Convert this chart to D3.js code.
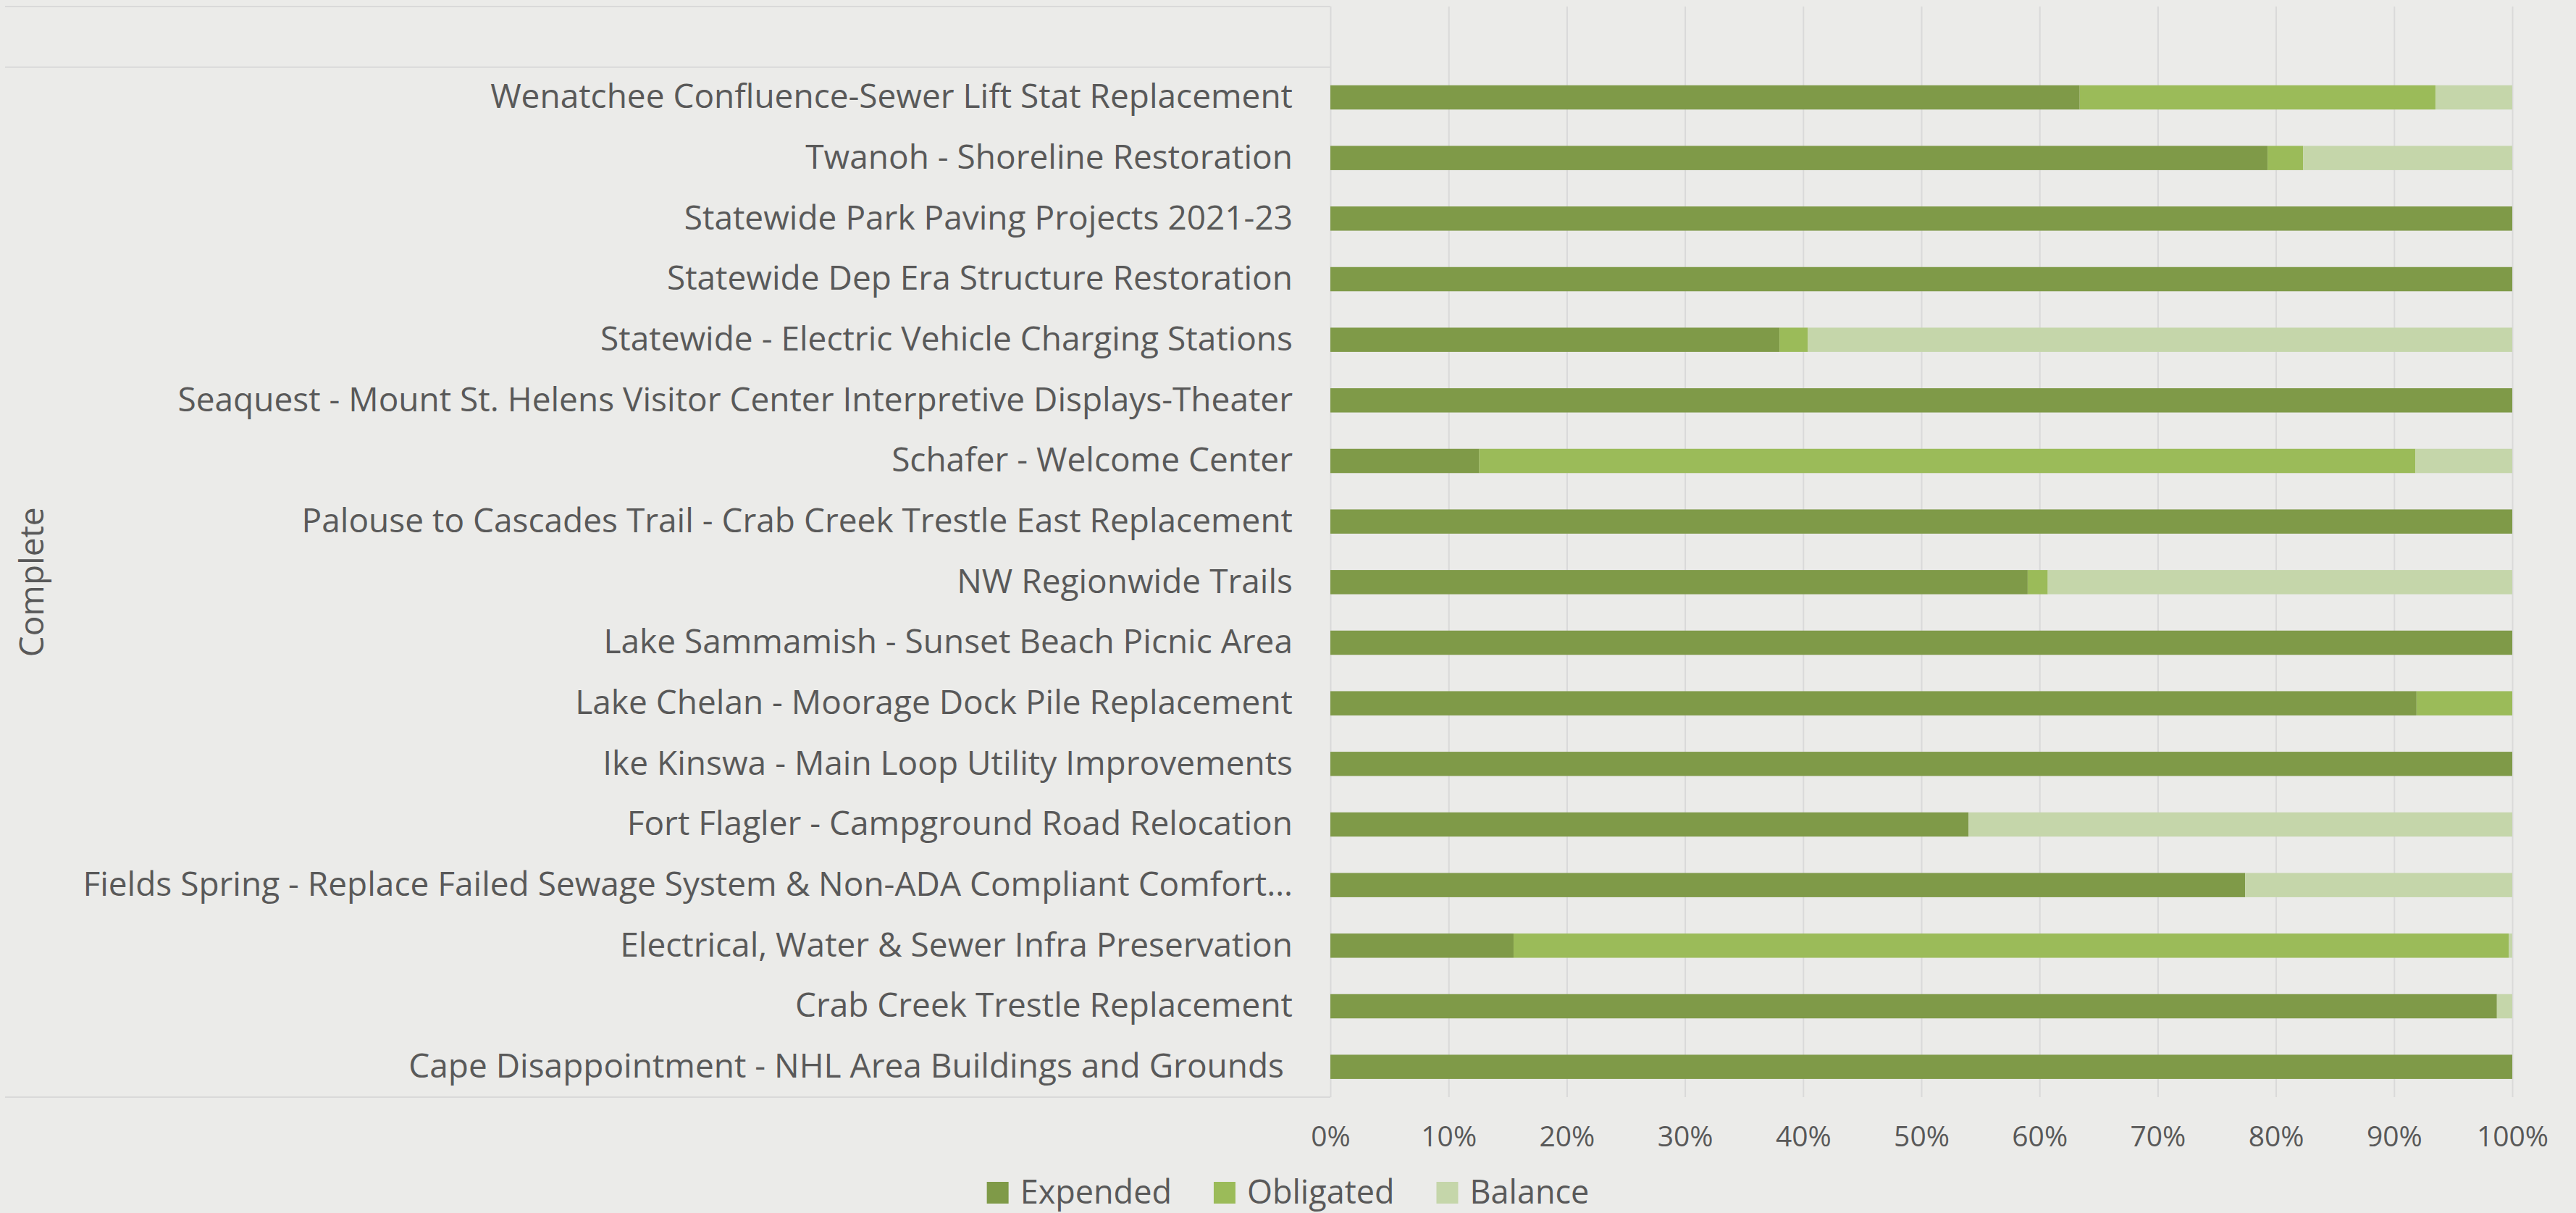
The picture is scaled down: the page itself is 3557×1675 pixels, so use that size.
<!DOCTYPE html>
<html>
<head>
<meta charset="utf-8">
<script src="https://cdnjs.cloudflare.com/ajax/libs/d3/7.8.5/d3.min.js"></script>
<style>
    body { margin: 0; background: #ebebe9; }
    svg { display: block; font-family: "Open Sans", sans-serif; }
    .axis text { fill: #595959; }
    .axis path { display: none; }
</style>
</head>
<body>
<div id="stacked-bar"></div>
<script>
// categories top to bottom, the first row is the empty slot above the "Complete" group
var projects = [
    "",
    "Wenatchee Confluence-Sewer Lift Stat Replacement",
    "Twanoh - Shoreline Restoration",
    "Statewide Park Paving Projects 2021-23",
    "Statewide Dep Era Structure Restoration",
    "Statewide - Electric Vehicle Charging Stations",
    "Seaquest - Mount St. Helens Visitor Center Interpretive Displays-Theater",
    "Schafer - Welcome Center",
    "Palouse to Cascades Trail - Crab Creek Trestle East Replacement",
    "NW Regionwide Trails",
    "Lake Sammamish - Sunset Beach Picnic Area",
    "Lake Chelan - Moorage Dock Pile Replacement",
    "Ike Kinswa - Main Loop Utility Improvements",
    "Fort Flagler - Campground Road Relocation",
    "Fields Spring - Replace Failed Sewage System & Non-ADA Compliant Comfort\u2026",
    "Electrical, Water & Sewer Infra Preservation",
    "Crab Creek Trestle Replacement",
    "Cape Disappointment - NHL Area Buildings and Grounds "
];
var groupName = "Complete";

// share of budget, percent
var expended  = [0, 63.4, 79.3, 100, 100, 38.0, 100, 12.6, 100, 59.0, 100, 91.9, 100, 54.0, 77.4, 15.5, 98.7, 100];
var obligated = [0, 30.1,  3.0,   0,   0,  2.4,   0, 79.2,   0,  1.7,   0,  8.1,   0,    0,    0, 84.2,    0,   0];
var balance   = [0,  6.5, 17.7,   0,   0, 59.6,   0,  8.2,   0, 39.3,   0,    0,   0, 46.0, 22.6,  0.3,  1.3,   0];

var keys = ["Expended", "Obligated", "Balance"];
var colors = ["#7f9a48", "#9bbb59", "#c5d6aa"];
var tickValues = [0, 0.1, 0.2, 0.3, 0.4, 0.5, 0.6, 0.7, 0.8, 0.9, 1];

var data = projects.map(function (p, i) {
    return { project: p, Expended: expended[i] / 100, Obligated: obligated[i] / 100, Balance: balance[i] / 100 };
});

var width = 3557, height = 1675;
var plotLeft = 1837, plotRight = 3469, plotTop = 9, plotBottom = 1515;
var boxLeft = 7;
var font = "'Open Sans', sans-serif";

var svg = d3.select("#stacked-bar").append("svg")
    .attr("width", width)
    .attr("height", height);

var xScale = d3.scaleLinear().domain([0, 1]).range([plotLeft, plotRight]);
var yScale = d3.scaleBand().domain(projects).range([plotTop, plotBottom])
    .paddingInner(0.6).paddingOuter(0.3);
var color = d3.scaleOrdinal().domain(keys).range(colors);

// gridlines + percent labels
var xAxis = d3.axisBottom(xScale)
    .tickValues(tickValues)
    .tickFormat(d3.format(".0%"))
    .tickSize(-(plotBottom - plotTop))
    .tickPadding(40);

var gx = svg.append("g")
    .attr("class", "axis axis--x")
    .attr("transform", "translate(0," + plotBottom + ")")
    .call(xAxis)
    .attr("font-family", font)
    .attr("font-size", 39);
gx.selectAll("line").attr("stroke", "#d9d9d9").attr("stroke-width", 2);

// category box lines (top, group separator, bottom)
var sepY = [plotTop, plotTop + yScale.step(), plotBottom];
svg.append("g").selectAll("line")
    .data(sepY)
    .enter().append("line")
    .attr("x1", boxLeft)
    .attr("x2", plotLeft)
    .attr("y1", function (d) { return d; })
    .attr("y2", function (d) { return d; })
    .attr("stroke", "#d9d9d9")
    .attr("stroke-width", 2);

// stacked bars
var stack = d3.stack().keys(keys);
var layers = stack(data);

var layer = svg.selectAll(".layer")
    .data(layers)
    .enter().append("g")
    .attr("class", "layer")
    .style("fill", function (d) { return color(d.key); });

layer.selectAll("rect")
    .data(function (d) { return d; })
    .enter().append("rect")
    .attr("y", function (d) { return yScale(d.data.project); })
    .attr("x", function (d) { return xScale(d[0]); })
    .attr("height", yScale.bandwidth())
    .attr("width", function (d) { return xScale(d[1]) - xScale(d[0]); });

// project labels
var yAxis = d3.axisLeft(yScale).tickSize(0).tickPadding(52);
var gy = svg.append("g")
    .attr("class", "axis axis--y")
    .attr("transform", "translate(" + plotLeft + ",0)")
    .call(yAxis)
    .attr("font-family", font)
    .attr("font-size", 46);
gy.selectAll("text").style("white-space", "pre");

// outer group label
var groupMid = (plotTop + yScale.step() + plotBottom) / 2;
svg.append("text")
    .attr("transform", "translate(60," + groupMid + ") rotate(-90)")
    .attr("text-anchor", "middle")
    .attr("font-size", 46)
    .attr("fill", "#595959")
    .text(groupName);

// legend
var legendRectSize = 30;
var legendSpacing = 16;
var legendGap = 58;
var legend = svg.append("g").attr("class", "legend");
var xPos = 0;
keys.forEach(function (k) {
    var item = legend.append("g").attr("transform", "translate(" + xPos + ",0)");
    item.append("rect")
        .attr("y", -legendRectSize)
        .attr("width", legendRectSize)
        .attr("height", legendRectSize)
        .style("fill", color(k));
    var t = item.append("text")
        .attr("x", legendRectSize + legendSpacing)
        .attr("font-size", 45)
        .attr("fill", "#595959")
        .text(k);
    xPos += legendRectSize + legendSpacing + t.node().getComputedTextLength() + legendGap;
});
var legendWidth = xPos - legendGap;
legend.attr("transform", "translate(" + (width / 2 - legendWidth / 2) + ",1662)");
</script>
</body>
</html>
